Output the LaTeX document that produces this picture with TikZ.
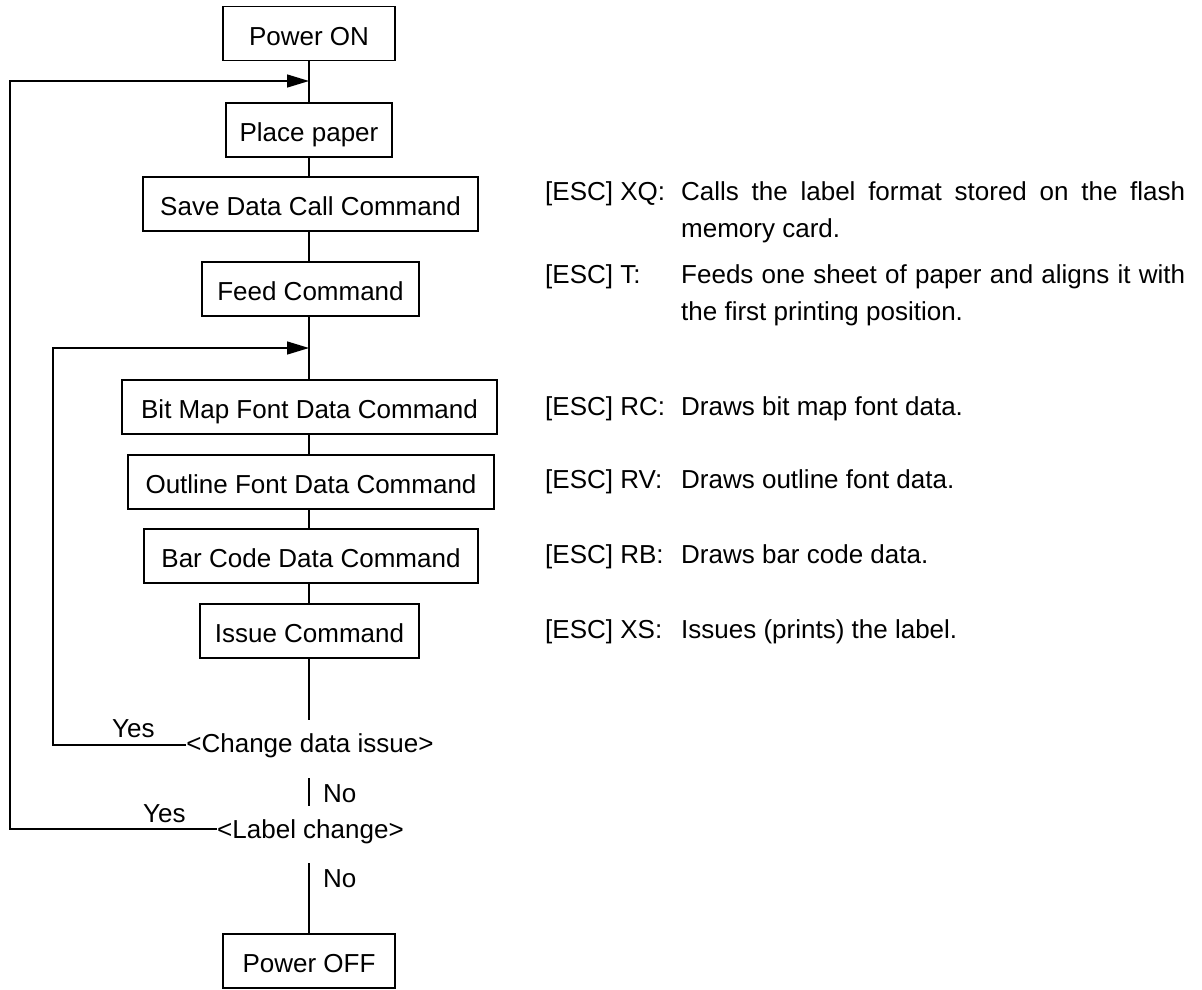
\documentclass[tikz,border=0pt]{standalone}
\usepackage{fontspec}
\setmainfont{Liberation Sans}
\usetikzlibrary{arrows.meta}
\begin{document}
\begin{tikzpicture}[x=1pt,y=-1pt,
  every node/.style={font=\fontsize{26pt}{31pt}\selectfont},
  box/.style={draw,line width=1.6pt,inner sep=0pt,minimum height=54pt,text height=23pt,text depth=0pt},
  txt/.style={inner sep=0pt,anchor=base west},
  conn/.style={line width=1.4pt},
  arr/.style={conn,-{Triangle[length=22pt,width=13pt]}}]
\useasboundingbox (0,0) rectangle (1202,989);
% flow boxes
\node[box,minimum width=172pt] (pon)   at (309,33.5) {Power ON};
\node[box,minimum width=166pt] (place) at (309,130) {Place paper};
\node[box,minimum width=335pt] (save)  at (310.5,204) {Save Data Call Command};
\node[box,minimum width=217pt] (feed)  at (310.5,289) {Feed Command};
\node[box,minimum width=375pt] (bit)   at (309.5,407) {Bit Map Font Data Command};
\node[box,minimum width=366pt] (outl)  at (311,482) {Outline Font Data Command};
\node[box,minimum width=334pt] (bar)   at (311,556) {Bar Code Data Command};
\node[box,minimum width=219pt] (iss)   at (309.5,631) {Issue Command};
\node[box,minimum width=172pt] (off)   at (309,961) {Power OFF};
% decisions
\node[inner sep=0pt,anchor=base] (dcd) at (310,752) {<Change data issue>};
\node[inner sep=0pt,anchor=base] (dlc) at (310.5,838) {<Label change>};
\node[txt] (yes1) at (112,737) {Yes};
\node[txt] (yes2) at (143,822) {Yes};
\node[txt] (no1) at (323,802) {No};
\node[txt] (no2) at (323,887) {No};
% axis coordinates
\coordinate (ax) at (309,0);
\coordinate (j1) at (309,81);
\coordinate (j2) at (309,348);
\coordinate (c1) at (309,720);
\coordinate (c2a) at (309,778);
\coordinate (c2b) at (309,806);
\coordinate (c3) at (309,863);
\coordinate (y1) at (53,745);
\coordinate (y2) at (10,829);
% connectors
\draw[conn] (pon.south -| ax) -- (place.north -| ax);
\draw[conn] (place.south -| ax) -- (save.north -| ax);
\draw[conn] (save.south -| ax) -- (feed.north -| ax);
\draw[conn] (feed.south -| ax) -- (bit.north -| ax);
\draw[conn] (bit.south -| ax) -- (outl.north -| ax);
\draw[conn] (outl.south -| ax) -- (bar.north -| ax);
\draw[conn] (bar.south -| ax) -- (iss.north -| ax);
\draw[conn] (iss.south -| ax) -- (c1);
\draw[conn] (c2a) -- (c2b);
\draw[conn] (c3) -- (off.north -| ax);
\draw[arr] (dcd.west |- y1) -- (y1) |- (j2);
\draw[arr] (dlc.west |- y2) -- (y2) |- (j1);
% descriptions
\node[txt] (k1) at (545,200) {[ESC] XQ:};
\node[txt] (d1a) at (681,200) {\makebox[504pt][s]{Calls the label format stored on the flash}};
\node[txt] (d1b) at (681,237) {memory card.};
\node[txt] (k2) at (545,283) {[ESC] T:};
\node[txt] (d2a) at (681,283) {\makebox[504pt][s]{Feeds one sheet of paper and aligns it with}};
\node[txt] (d2b) at (681,320) {the first printing position.};
\node[txt] (k3) at (545,415) {[ESC] RC:};
\node[txt] (d3) at (681,415) {Draws bit map font data.};
\node[txt] (k4) at (545,488) {[ESC] RV:};
\node[txt] (d4) at (681,488) {Draws outline font data.};
\node[txt] (k5) at (545,563) {[ESC] RB:};
\node[txt] (d5) at (681,563) {Draws bar code data.};
\node[txt] (k6) at (545,638) {[ESC] XS:};
\node[txt] (d6) at (681,638) {Issues (prints) the label.};
\end{tikzpicture}
\end{document}
